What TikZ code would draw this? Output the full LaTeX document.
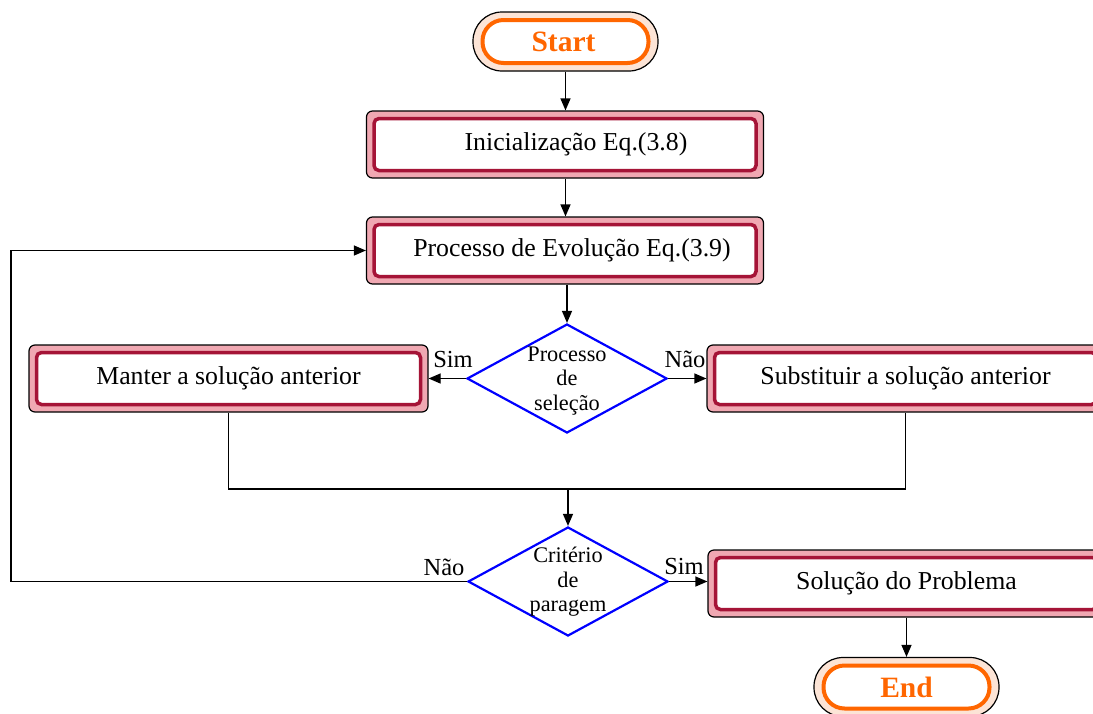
\documentclass[tikz,border=0pt]{standalone}
\usepackage{fontspec}
\setmainfont{Liberation Serif}
\usetikzlibrary{arrows.meta,shapes.geometric,calc}
\definecolor{pinkfill}{RGB}{240,168,178}
\definecolor{darkred}{RGB}{165,20,55}
\definecolor{peach}{RGB}{252,228,214}
\definecolor{orng}{RGB}{255,102,0}
\definecolor{dblue}{RGB}{0,0,255}
\tikzset{
  boxouter/.style={draw=black, line width=1.2pt, fill=pinkfill, rounded corners=6pt,
    minimum width=397pt, minimum height=67pt, inner sep=0pt},
  boxinner/.style={draw=darkred, line width=3.5pt, fill=white, rounded corners=5pt,
    minimum width=382pt, minimum height=52pt, inner sep=0pt,
    font=\fontsize{25.8}{28}\selectfont},
  pillouter/.style={draw=black, line width=1.2pt, fill=peach, rounded corners=29pt,
    minimum width=185pt, minimum height=59pt, inner sep=0pt},
  pillinner/.style={draw=orng, line width=4pt, fill=white, rounded corners=21pt,
    minimum width=166pt, minimum height=43pt, inner sep=0pt,
    font=\fontsize{29.5}{32}\selectfont\bfseries, text=orng},
  decision/.style={diamond, draw=dblue, line width=2.2pt, fill=white,
    minimum width=200pt, minimum height=109pt, aspect=1.835, inner sep=0pt},
  dtext/.style={align=center, font=\fontsize{22.3}{24.5}\selectfont, inner sep=0pt},
  lbl/.style={font=\fontsize{24.5}{28}\selectfont, inner sep=0pt},
  conn/.style={draw=black, line width=1.2pt},
  arr/.style={conn, -{Triangle[length=12pt,width=10pt]}},
}
\begin{document}
\begin{tikzpicture}[x=1pt,y=-1pt]
\useasboundingbox (0,0) rectangle (1093,713);
\clip (0,0) rectangle (1093,713);
\fill[white] (0,0) rectangle (1093,713);

% Start
\node[pillouter] (start) at (565.5,41.5) {};
\node[pillinner] (starti) at (start.center) {\hspace*{-4pt}Start};

% Initialization
\node[boxouter] (init) at (565,144.5) {};
\node[boxinner] (initi) at (init.center) {\hspace*{22pt}Inicialização Eq.(3.8)};

% Evolution
\node[boxouter] (evol) at (565,250.5) {};
\node[boxinner] (evoli) at (evol.center) {\hspace*{14pt}Processo de Evolução Eq.(3.9)};

% Decision 1
\node[decision] (d1) at (567,378.5) {};
\node[dtext] (d1t) at (567,381) {Processo\\de\\seleção};

% Left box
\node[boxouter, minimum width=399pt] (left) at (228.5,378.5) {};
\node[boxinner, minimum width=384pt] (lefti) at (left.center) {Manter a solução anterior};

% Right box
\node[boxouter] (right) at (905.5,378.5) {};
\node[boxinner] (righti) at (right.center) {Substituir a solução anterior};

% Decision 2
\node[decision] (d2) at (568,581.5) {};
\node[dtext] (d2t) at (568,582) {Critério\\de\\paragem};

% Solution
\node[boxouter] (sol) at (906.5,583.5) {};
\node[boxinner] (soli) at (sol.center) {Solução do Problema};

% End
\node[pillouter] (end) at (906.5,687) {};
\node[pillinner] (endi) at (end.center) {End};

% coordinates
\coordinate (merge) at (568,489);
\coordinate (loop) at (11,581.5);

% connectors
\draw[arr] (start.south) -- (start.south |- init.north);
\draw[arr] (start.south |- init.south) -- (start.south |- evol.north);
\draw[arr] (d1.north |- evol.south) -- (d1.north);
\draw[arr] (d1.west) -- (d1.west -| left.east);
\draw[arr] (d1.east) -- (d1.east -| right.west);
\draw[conn] (left.south) |- (merge) -| (right.south);
\draw[arr] (merge) -- (d2.north);
\draw[arr] (d2.west) -- (loop) |- (evol.west);
\draw[arr] (d2.east) -- (d2.east -| sol.west);
\draw[arr] (sol.south) -- (end.north);

% labels
\node[lbl] (simA) at (453,360) {Sim};
\node[lbl] (naoA) at (685,359) {Não};
\node[lbl] (naoB) at (444,567) {Não};
\node[lbl] (simB) at (684,566) {Sim};
\end{tikzpicture}
\end{document}
